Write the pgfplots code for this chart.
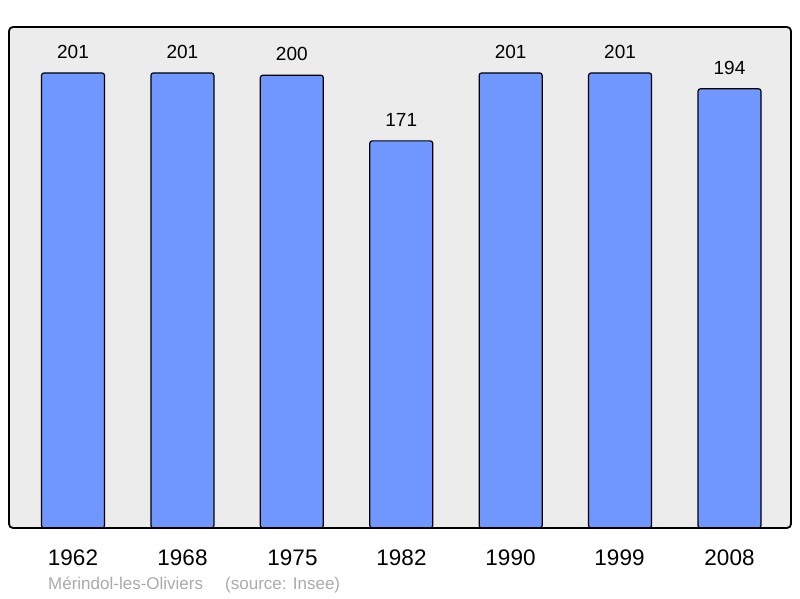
\documentclass[border=0pt]{standalone}
\usepackage{pgfplots}
\pgfplotsset{compat=1.18}
\usepackage{fontspec}
\setmainfont{Liberation Sans}
\definecolor{barblue}{RGB}{112,150,255}
\definecolor{bggray}{RGB}{236,236,236}
\definecolor{foot}{RGB}{170,170,170}
\begin{document}
\begin{tikzpicture}[x=1pt,y=1pt]
\useasboundingbox (0,0) rectangle (800,598);
\begin{axis}[
  at={(9pt,70pt)}, anchor=south west,
  scale only axis, width=782pt, height=501pt,
  xmin=-0.585, xmax=6.562, ymin=0, ymax=221.3,
  axis lines=none,
  axis background/.style={fill=bggray, rounded corners=4pt},
  xtick=data,
  xticklabels={1962,1968,1975,1982,1990,1999,2008},
  ytick=\empty,
  major tick length=0pt,
  clip=false,
  /pgf/number format/assume math mode=true,
  ybar, bar width=63pt,
  nodes near coords,
  every node near coord/.append style={font=\fontsize{19}{21}\selectfont, anchor=base, yshift=14.5pt, text=black},
]
\addplot[fill=barblue, draw=black, line width=1.2pt, rounded corners=2.5pt] coordinates {
(0,201) (1,201) (2,200) (3,171) (4,201) (5,201) (6,194)};
\draw[line width=1.8pt, rounded corners=4pt] (rel axis cs:0,0) rectangle (rel axis cs:1,1);
\end{axis}
\foreach \x/\l in {73/1962,182.5/1968,292.5/1975,401.5/1982,510.5/1990,619.5/1999,729.5/2008}
  \node[anchor=base, font=\fontsize{22.5}{25}\selectfont, inner sep=0pt] at (\x,33) {\l};
\node[anchor=base west, inner sep=0pt, text=foot, font=\fontsize{17}{19}\selectfont] at (48,9) {Mérindol-les-Oliviers};
\node[anchor=base west, inner sep=0pt, text=foot, font=\fontsize{17}{19}\selectfont] at (225,9) {(source: Insee)};
\end{tikzpicture}
\end{document}
